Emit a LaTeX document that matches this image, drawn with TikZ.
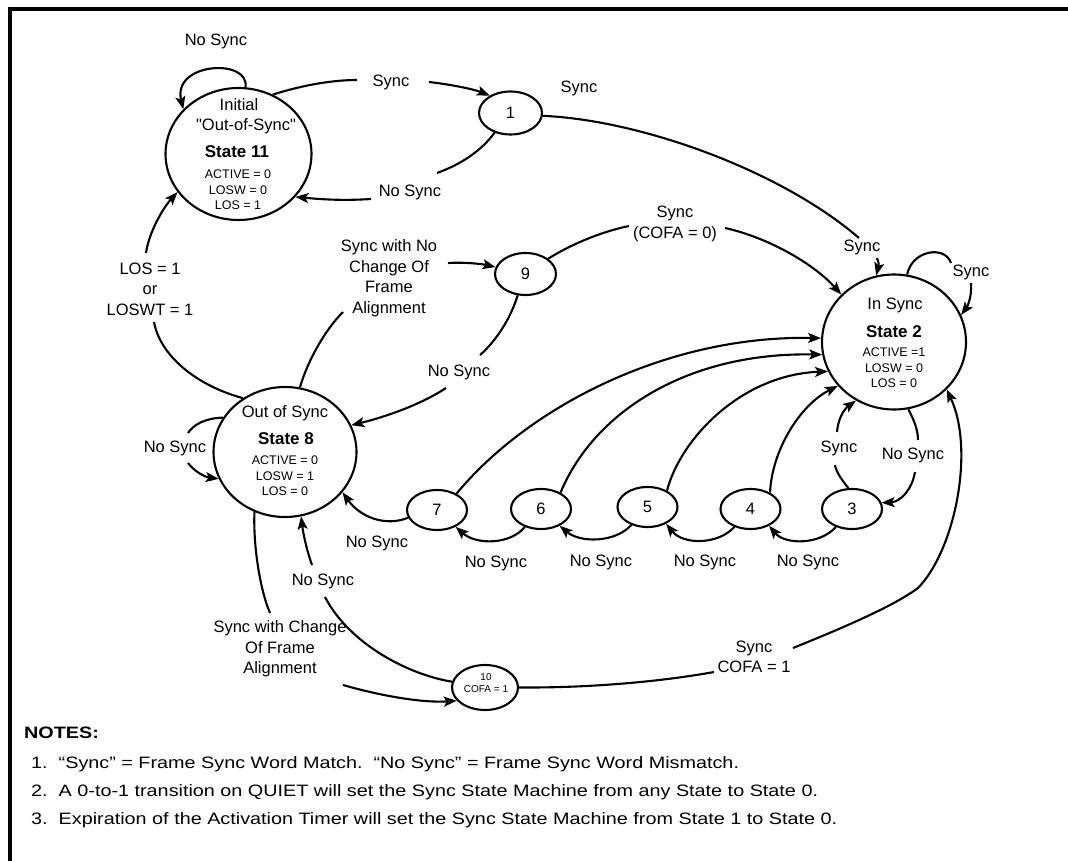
\documentclass[tikz,border=0pt]{standalone}
\usepackage{fontspec}
\setmainfont{Liberation Sans}
\newfontfamily\notefont[FakeStretch=1.2]{Liberation Sans}
\usetikzlibrary{shapes.geometric,arrows.meta}
\begin{document}
\begin{tikzpicture}[x=1pt,y=-1pt,
  lbl/.style={font=\fontsize{16.5}{20.5}\selectfont,align=center,inner sep=0pt},
  smalltxt/.style={font=\fontsize{12.5}{15.6}\selectfont,align=center,inner sep=0pt},
  boldtxt/.style={font=\bfseries\fontsize{17}{20}\selectfont,inner sep=0pt},
  bigstate/.style={draw,ellipse,line width=2.1pt,inner sep=0pt},
  smallstate/.style={draw,ellipse,line width=2.1pt,inner sep=0pt,minimum width=60pt,minimum height=40pt},
  conn/.style={line width=2.1pt},
  arr/.style={line width=2.1pt,-{Stealth[length=13pt,width=10pt,inset=3pt]}},
  notetxt/.style={font=\notefont\fontsize{16.5}{20}\selectfont,anchor=west,inner sep=0pt}
]
\useasboundingbox (0,0) rectangle (1068,861);
\draw[line width=4pt] (1068,9) -- (9.5,9) -- (9.5,861);

% states
\node[bigstate,minimum width=146pt,minimum height=132pt] (s11) at (238.5,154) {};
\node[bigstate,minimum width=143pt,minimum height=130pt] (s8) at (285,452) {};
\node[bigstate,minimum width=144pt,minimum height=135pt] (s2) at (894,342) {};
\node[smallstate,lbl,minimum width=63pt,minimum height=43pt] (s1) at (510.5,113) {1};
\node[smallstate,lbl,minimum width=61pt,minimum height=42pt] (s9) at (525.5,274) {9};
\node[smallstate,lbl] (s7) at (437,510) {7};
\node[smallstate,lbl] (s6) at (541,509) {6};
\node[smallstate,lbl] (s5) at (647.5,507) {5};
\node[smallstate,lbl] (s4) at (750.5,509) {4};
\node[smallstate,lbl] (s3) at (852,509) {3};
\node[smallstate,minimum width=66pt,minimum height=45pt] (s10) at (485,687.5) {};
\node[font=\fontsize{10}{12}\selectfont,align=center,inner sep=0pt] (t10) at (486,683) {10\\COFA = 1};

% state texts
\node[lbl] (t11a) at (239,105) {Initial};
\node[lbl] (t11b) at (246,126) {\addfontfeatures{Ligatures=TeXOff}"Out-of-Sync"};
\node[boldtxt] (t11c) at (237,152) {State 11};
\node[smalltxt] (t11d) at (238,190) {ACTIVE = 0\\LOSW = 0\\LOS = 1};
\node[lbl] (t8a) at (285,413) {Out of Sync};
\node[boldtxt] (t8b) at (286,439) {State 8};
\node[smalltxt] (t8c) at (285,476) {ACTIVE = 0\\LOSW = 1\\LOS = 0};
\node[lbl] (t2a) at (895,305) {In Sync};
\node[boldtxt] (t2b) at (894,332) {State 2};
\node[smalltxt] (t2c) at (894,368) {ACTIVE =1\\LOSW = 0\\LOS = 0};

% edge labels
\node[lbl] (l1) at (216,41) {No Sync};
\node[lbl] (l2) at (391,82) {Sync};
\node[lbl] (l3) at (579,88) {Sync};
\node[lbl] (l4) at (410,192) {No Sync};
\node[lbl] (l5) at (150,289) {LOS = 1\\or\\LOSWT = 1};
\node[lbl] (l6) at (389,278) {Sync with No\\Change Of\\Frame\\Alignment};
\node[lbl] (l7) at (675,224) {Sync\\(COFA = 0)};
\node[lbl] (l8) at (862,247) {Sync};
\node[lbl] (l9) at (971,272) {Sync};
\node[lbl] (l10) at (459,372) {No Sync};
\node[lbl] (l11) at (175,448) {No Sync};
\node[lbl] (l12) at (839,448) {Sync};
\node[lbl] (l13) at (913,455) {No Sync};
\node[lbl] (l14) at (377,543) {No Sync};
\node[lbl] (l15) at (496,563) {No Sync};
\node[lbl] (l16) at (601,562) {No Sync};
\node[lbl] (l17) at (705,562) {No Sync};
\node[lbl] (l18) at (808,562) {No Sync};
\node[lbl] (l19) at (323,581) {No Sync};
\node[lbl] (l20) at (280,649) {Sync with Change\\Of Frame\\Alignment};
\node[lbl] (l21) at (754,657) {Sync\\COFA = 1};

% gap coordinates
\coordinate (g1a) at (357,80);  \coordinate (g1b) at (429,82);
\coordinate (g2a) at (437,173); \coordinate (g2b) at (371,199);
\coordinate (g3a) at (154,322); \coordinate (g3b) at (146,253);
\coordinate (g4a) at (343,312); \coordinate (g4b) at (448,263);
\coordinate (g5a) at (629,226); \coordinate (g5b) at (725,228);
\coordinate (g6a) at (480,355); \coordinate (g6b) at (446,388);
\coordinate (g7a) at (859,238); \coordinate (g7b) at (877,258);
\coordinate (g8a) at (951,263); \coordinate (g8b) at (971,283);
\coordinate (g9a) at (918,440); \coordinate (g9b) at (915,472);
\coordinate (g10a) at (835,465); \coordinate (g10b) at (837,432);
\coordinate (g11a) at (188,433); \coordinate (g11b) at (188,463);
\coordinate (g12a) at (270,613); \coordinate (g12b) at (343,685);
\coordinate (g13a) at (325,597); \coordinate (g13b) at (312,565);
\coordinate (g14a) at (714,672); \coordinate (g14b) at (793,648);
\coordinate (g14c) at (918,588);

% connectors
\draw[arr] (s11.84) .. controls (250,58) and (172,62) .. (s11.141);
\draw[conn] (s11.60) .. controls (300,86) and (330,80) .. (g1a);
\draw[arr] (g1b) .. controls (455,85) and (476,90) .. (s1.140);
\draw[conn] (s1.231) .. controls (482,150) and (462,164) .. (g2a);
\draw[arr] (g2b) .. controls (340,201) and (318,199) .. (s11.323);
\draw[conn] (s8.128) .. controls (195,385) and (160,355) .. (g3a);
\draw[arr] (g3b) .. controls (149,232) and (163,208) .. (s11.212);
\draw[conn] (s8.77) .. controls (308,360) and (325,330) .. (g4a);
\draw[arr] (g4b) .. controls (465,262) and (482,264) .. (s9.167);
\draw[conn] (s9.34) .. controls (570,245) and (600,232) .. (g5a);
\draw[arr] (g5b) .. controls (770,238) and (815,265) .. (s2.138);
\draw[conn] (s9.250) .. controls (510,320) and (495,342) .. (g6a);
\draw[arr] (g6b) .. controls (420,405) and (385,417) .. (s8.22);
\draw[conn] (s1.355) .. controls (640,120) and (780,170) .. (g7a);
\draw[arr] (g7b) .. controls (879,264) .. (s2.105);
\draw[conn] (s2.79) .. controls (912,250) and (945,245) .. (g8a);
\draw[arr] (g8b) .. controls (972,298) and (967,307) .. (s2.22);
\draw[conn] (s2.282) .. controls (914,420) and (918,430) .. (g9a);
\draw[arr] (g9b) .. controls (912,490) and (900,502) .. (s3.12);
\draw[conn] (s3.100) .. controls (842,480) and (836,472) .. (g10a);
\draw[arr] (g10b) .. controls (838,420) and (843,410) .. (s2.237);
\draw[arr] (s4.40) .. controls (772,450) and (800,405) .. (s2.218);
\draw[arr] (s5.40) .. controls (680,440) and (740,375) .. (s2.204);
\draw[arr] (s6.40) .. controls (595,410) and (690,352) .. (s2.190);
\draw[arr] (s7.40) .. controls (530,405) and (670,335) .. (s2.177);
\draw[arr] (s3.228) .. controls (820,545) and (785,545) .. (s4.318);
\draw[arr] (s4.228) .. controls (718,545) and (683,545) .. (s5.318);
\draw[arr] (s5.228) .. controls (615,543) and (580,543) .. (s6.318);
\draw[arr] (s6.228) .. controls (510,545) and (476,545) .. (s7.318);
\draw[arr] (s7.195) .. controls (385,527) and (360,517) .. (s8.325);
\draw[conn] (s8.151) .. controls (205,418) and (193,425) .. (g11a);
\draw[arr] (g11b) .. controls (195,472) and (205,477) .. (s8.202);
\draw[conn] (s8.243) .. controls (253,545) and (260,590) .. (g12a);
\draw[arr] (g12b) .. controls (385,697) and (425,703) .. (s10.205);
\draw[conn] (s10.170) .. controls (410,675) and (350,645) .. (g13a);
\draw[arr] (g13b) .. controls (306,548) and (303,532) .. (s8.284);
\draw[conn] (s10.0) .. controls (600,688) and (670,680) .. (g14a);
\draw[arr] (g14b) .. controls (850,625) and (895,605) .. (g14c) .. controls (955,550) and (975,450) .. (s2.318);

% notes
\node[notetxt,font=\notefont\bfseries\fontsize{16.5}{20}\selectfont] (nh) at (24,733) {NOTES:};
\node[notetxt] (n1) at (31,764) {1.\ \ “Sync” = Frame Sync Word Match.\ \ “No Sync” = Frame Sync Word Mismatch.};
\node[notetxt] (n2) at (31,792) {2.\ \ A 0-to-1 transition on QUIET will set the Sync State Machine from any State to State 0.};
\node[notetxt] (n3) at (31,820) {3.\ \ Expiration of the Activation Timer will set the Sync State Machine from State 1 to State 0.};
\end{tikzpicture}
\end{document}
